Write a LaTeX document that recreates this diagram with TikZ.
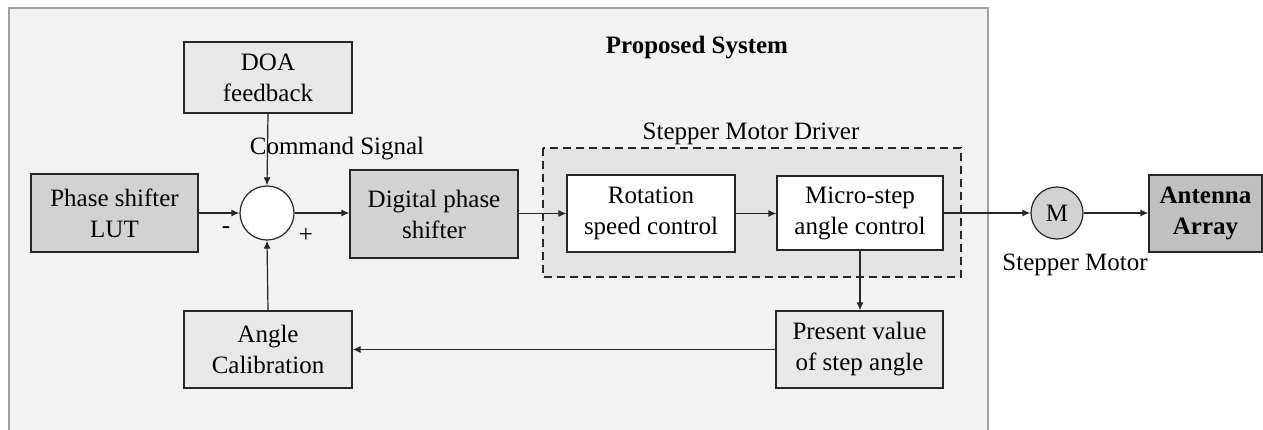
\documentclass[tikz,border=0pt]{standalone}
\usepackage{fontspec}
\setmainfont{Liberation Serif}
\usetikzlibrary{arrows.meta}
\definecolor{panelfill}{HTML}{F2F2F2}
\definecolor{panelline}{HTML}{A0A0A0}
\definecolor{lightbox}{HTML}{E8E8E8}
\definecolor{darkbox}{HTML}{D2D2D2}
\definecolor{drvfill}{HTML}{E3E3E3}
\definecolor{antfill}{HTML}{C0C0C0}
\tikzset{
  txt/.style={font=\fontsize{25}{31}\selectfont, align=center, inner sep=0pt},
  blk/.style={txt, draw=black!85, line width=1.2pt},
  arr/.style={line width=1.2pt, draw=black!85, -{Latex[length=8pt,width=7pt]}},
}
\begin{document}
\begin{tikzpicture}[x=1pt,y=-1pt]
\useasboundingbox (0,0) rectangle (1263,429);
% panel
\fill[white] (0,0) rectangle (1263,429);
\draw[panelline, fill=panelfill, line width=1.2pt] (9,440) -- (9,8) -- (988,8) -- (988,440);
\node[txt, font=\fontsize{25}{31}\selectfont\bfseries] (title) at (697,48) {Proposed System};
% driver dashed region
\draw[fill=drvfill, draw=black!85, dash pattern=on 8pt off 5pt, line width=1.2pt] (543,148) rectangle (961,277);
\node[txt] (drvlabel) at (751,134) {Stepper Motor Driver};
% blocks
\node[blk, fill=lightbox, minimum width=168pt, minimum height=71pt] (doa) at (268,77.5) {DOA\\feedback};
\node[blk, fill=darkbox, minimum width=167pt, minimum height=78pt] (lut) at (114.5,213) {Phase shifter\\LUT};
\node[blk, fill=darkbox, minimum width=168pt, minimum height=88pt] (dig) at (434,214) {Digital phase\\shifter};
\node[blk, fill=lightbox, minimum width=168pt, minimum height=77pt] (cal) at (268,349.5) {Angle\\Calibration};
\node[blk, fill=white, minimum width=168pt, minimum height=77pt] (rot) at (651,213.5) {Rotation\\speed control};
\node[blk, fill=white, minimum width=166pt, minimum height=74pt] (mic) at (860,213) {Micro-step\\angle control};
\node[blk, fill=lightbox, minimum width=167pt, minimum height=77pt] (pres) at (859.5,349.5) {Present value\\of step angle};
\node[blk, fill=antfill, minimum width=113pt, minimum height=77pt, font=\fontsize{25}{31}\selectfont\bfseries] (ant) at (1205.5,213.5) {Antenna\\Array};
\node[circle, draw=black!85, line width=1.2pt, fill=white, minimum size=54pt, inner sep=0pt] (sum) at (267,213) {};
\node[circle, txt, draw=black!85, line width=1.2pt, fill=darkbox, minimum size=52pt] (mot) at (1057,213) {M};
% labels
\node[txt] (cmd) at (337,149) {Command Signal};
\node[txt] (minus) at (226,230) {-};
\node[txt] (plus) at (306,235) {+};
\node[txt] (motlabel) at (1075,265) {Stepper Motor};
% connectors
\draw[arr] (lut.east) -- (lut.east -| sum.west);
\draw[arr] (doa.south) -- (sum.north);
\draw[arr] (cal.north) -- (sum.south);
\draw[arr] (sum.east) -- (sum.east -| dig.west);
\draw[arr] (dig.east |- rot.west) -- (rot.west);
\draw[arr] (rot.east) -- (rot.east -| mic.west);
\draw[arr] (mic.east) -- (mot.west);
\draw[arr] (mot.east) -- (mot.east -| ant.west);
\draw[arr] (mic.south) -- (mic.south |- pres.north);
\draw[arr] (pres.west) -- (pres.west -| cal.east);
\end{tikzpicture}
\end{document}
